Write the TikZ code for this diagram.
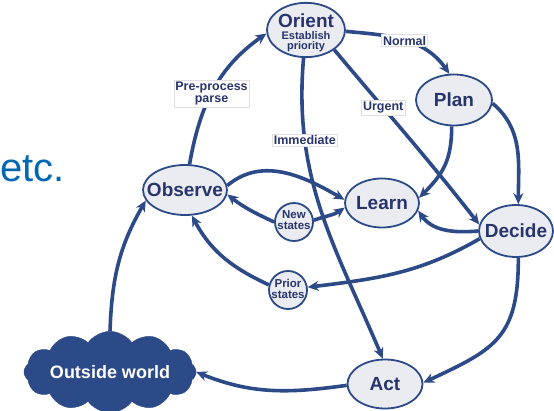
\documentclass[tikz,border=0pt]{standalone}
\usepackage{fontspec}
\setmainfont{Liberation Sans}
\usetikzlibrary{shapes.geometric,shapes.symbols,arrows.meta}
\definecolor{wire}{RGB}{44,74,136}
\definecolor{ink}{RGB}{40,52,108}
\definecolor{shade}{RGB}{234,236,241}
\definecolor{etcblue}{RGB}{0,104,178}
\begin{document}
\begin{tikzpicture}[x=1pt,y=1pt,
  % text is boxed at zero width so that the ellipse keeps its given size
  stage/.style={ellipse, draw=wire, line width=1.8pt, fill=shade, text=ink,
    font=\bfseries\fontsize{19}{20}\selectfont, inner sep=0pt,
    execute at begin node={\hbox to 0pt\bgroup\hss},
    execute at end node={\hss\egroup}},
  memo/.style={circle, draw=wire, line width=1.8pt, fill=shade, text=ink,
    font=\bfseries\fontsize{11.5}{11}\selectfont, inner sep=0pt, minimum size=38pt,
    execute at begin node={\hbox to 0pt\bgroup\hss},
    execute at end node={\hss\egroup}},
  tag/.style={fill=white, draw=black!12, line width=0.4pt, text=ink,
    font=\bfseries\fontsize{12.5}{12.5}\selectfont, inner sep=1.5pt, align=center},
  flow/.style={draw=wire, line width=3.6pt, -{Stealth[length=11pt,width=10pt]}},
]
\useasboundingbox (0,0) rectangle (554,410);

% side text
\node[anchor=base west, text=etcblue, font=\fontsize{40}{40}\selectfont, inner sep=0pt] (etc) at (0,228) {etc.};

% stages of the loop
\node[stage, minimum width=78pt, minimum height=54pt] (ori) at (306,380)
  {\raisebox{-2.5pt}[\height][\depth]{\fontsize{11}{8}\selectfont\begin{tabular}{@{}c@{}}{\fontsize{19}{19}\selectfont Orient}\\[2pt]Establish\\[-0.5pt]priority\end{tabular}}};
\node[stage, minimum width=76pt, minimum height=51pt] (plan) at (454,310) {Plan};
\node[stage, minimum width=84pt, minimum height=50pt] (obs) at (185,220) {Observe};
\node[stage, minimum width=74pt, minimum height=49pt] (learn) at (382,207) {Learn};
\node[stage, minimum width=74pt, minimum height=52pt] (dec) at (516,179) {Decide};
\node[stage, minimum width=75pt, minimum height=49pt] (act) at (385,26) {Act};
\node[memo] (new) at (294,188) {\begin{tabular}{@{}c@{}}New\\states\end{tabular}};
\node[memo] (prior) at (288,120) {\begin{tabular}{@{}c@{}}Prior\\states\end{tabular}};
\node[cloud, cloud puffs=12, cloud puff arc=110, aspect=2.8, fill=wire, draw=wire,
  minimum width=170pt, minimum height=58pt, text=white,
  font=\bfseries\fontsize{18}{18}\selectfont, inner sep=0pt] (world) at (110,38) {Outside world};

% connectors
\draw[flow] (world.north) to[out=88,in=240] (obs.195);
\draw[flow] (obs.80) to[out=80,in=215] node[tag,pos=.47]{Pre-process\\parse} (ori.185);
\draw[flow] (ori.-2) to[out=-5,in=125] node[tag,pos=.5]{Normal} (plan.100);
\draw[flow] (ori.-35) to[out=-50,in=128] node[tag,pos=.32]{Urgent} (dec.170);
\draw[flow] (ori.265) to[out=265,in=113] node[tag,pos=.25]{Immediate} (act.95);
\draw[flow] (plan.265) to[out=270,in=45,looseness=1.1] (learn.8);
\draw[flow] (plan.-5) to[out=-40,in=90] (dec.85);
\draw[flow] (dec.180) to[out=185,in=-55] (learn.-12);
\draw[flow] (dec.192) to[out=210,in=7] (prior.8);
\draw[flow] (prior.165) to[out=155,in=-62] (obs.-75);
\draw[flow] (obs.6) to[out=40,in=150] (learn.175);
\draw[flow] (new.180) to[out=155,in=-38] (obs.-6);
\draw[flow] (new.5) to[out=20,in=215] (learn.187);
\draw[flow] (act.182) to[out=188,in=-22] (world.east);
\draw[flow] (dec.-85) to[out=-90,in=25,looseness=1.3] (act.2);
\end{tikzpicture}
\end{document}
